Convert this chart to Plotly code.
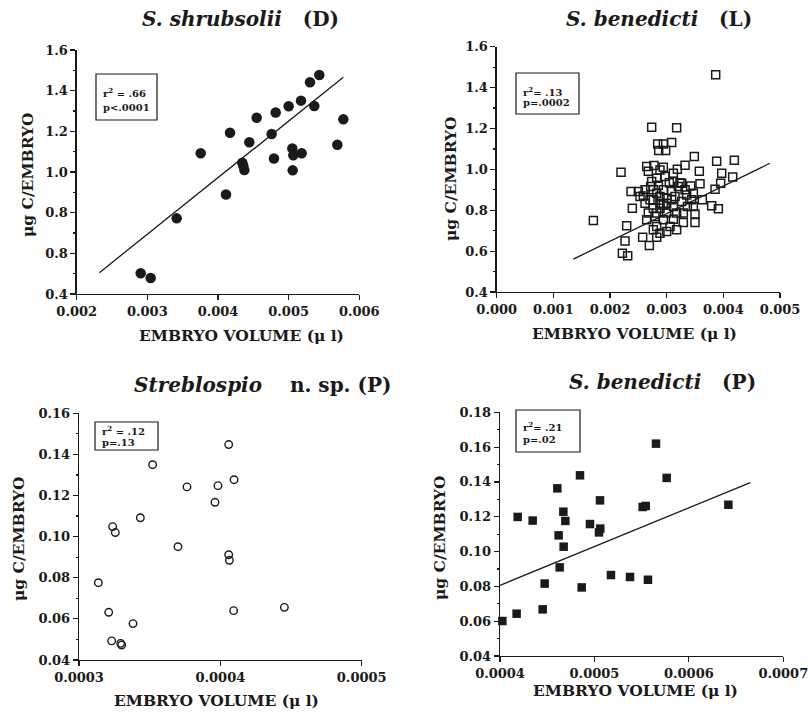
import plotly.graph_objects as go

W, H = 808, 714

# ---------------- data ----------------
# S. shrubsolii (D)
d_vol = [0.002906, 0.003047, 0.003415, 0.003755, 0.004170, 0.004113, 0.004344, 0.004358,
         0.004373, 0.004443, 0.004547, 0.004759, 0.004792, 0.004816, 0.005000, 0.005052,
         0.005066, 0.005057, 0.005184, 0.005175, 0.005302, 0.005363, 0.005434, 0.005689,
         0.005774]
d_carbon = [0.502, 0.479, 0.772, 1.092, 1.193, 0.889, 1.046, 1.031,
            1.010, 1.146, 1.267, 1.187, 1.066, 1.293, 1.323, 1.116,
            1.082, 1.008, 1.092, 1.351, 1.441, 1.325, 1.477, 1.134,
            1.259]
d_fit_x = [0.002321, 0.005774]
d_fit_y = [0.505, 1.466]

# S. benedicti (L)
l_vol = [0.003865, 0.002735, 0.003176, 0.002841, 0.002941, 0.003088, 0.002859, 0.002982,
         0.003488, 0.003882, 0.004194, 0.002194, 0.002676, 0.002776, 0.002941, 0.003188,
         0.003324, 0.003576, 0.003971, 0.004165, 0.002371, 0.002500, 0.002588, 0.002718,
         0.002853, 0.003047, 0.003235, 0.003424, 0.003588, 0.002394, 0.002618, 0.002765,
         0.002882, 0.001706, 0.002294, 0.002265, 0.002218, 0.002312, 0.002576, 0.002694,
         0.002824, 0.003794, 0.003912, 0.003500, 0.003500, 0.003853, 0.003953, 0.003294,
         0.003118, 0.003000, 0.003176, 0.002941, 0.002824, 0.002794, 0.003000, 0.003118,
         0.003265, 0.003353, 0.003441, 0.003471, 0.003294, 0.003147, 0.003088, 0.002941,
         0.002824, 0.002706, 0.002765, 0.002676, 0.002647, 0.002882, 0.003000, 0.003176,
         0.003059, 0.002882, 0.002765, 0.003265, 0.003118, 0.002971, 0.002824, 0.002735,
         0.002618, 0.002529, 0.003471, 0.003365, 0.003629, 0.002941, 0.002824, 0.003088,
         0.003206, 0.003324, 0.003000, 0.002882, 0.002765, 0.002647, 0.002882, 0.003118]
l_carbon = [1.463, 1.206, 1.203, 1.124, 1.124, 1.131, 1.092, 1.092,
            1.063, 1.040, 1.045, 0.986, 0.991, 1.019, 1.010, 1.001,
            1.020, 0.991, 0.981, 0.963, 0.892, 0.892, 0.870, 0.916,
            0.922, 0.935, 0.935, 0.919, 0.929, 0.810, 0.834, 0.851,
            0.867, 0.750, 0.724, 0.650, 0.590, 0.577, 0.668, 0.628,
            0.668, 0.822, 0.807, 0.782, 0.740, 0.903, 0.932, 0.740,
            0.756, 0.696, 0.704, 0.753, 0.720, 0.769, 0.786, 0.818,
            0.843, 0.875, 0.851, 0.818, 0.786, 0.867, 0.892, 0.900,
            0.883, 0.851, 0.810, 0.786, 0.753, 0.810, 0.834, 0.786,
            0.720, 0.688, 0.704, 0.932, 0.940, 0.965, 0.957, 0.940,
            0.900, 0.867, 0.883, 0.818, 0.851, 0.826, 0.786, 0.851,
            0.916, 0.900, 0.859, 0.834, 0.900, 1.014, 0.997, 0.981]
l_fit_x = [0.001353, 0.004824]
l_fit_y = [0.561, 1.030]

# Streblospio n. sp. (P)
n_vol = [0.0003137, 0.0003210, 0.0003238, 0.0003257, 0.0003231, 0.0003295, 0.0003302,
         0.0003382, 0.0003434, 0.0003521, 0.0003700, 0.0003764, 0.0003962, 0.0003983,
         0.0004059, 0.0004059, 0.0004064, 0.0004097, 0.0004094, 0.0004453]
n_carbon = [0.0776, 0.0632, 0.1049, 0.1020, 0.0493, 0.0481, 0.0473,
            0.0577, 0.1092, 0.1350, 0.0951, 0.1242, 0.1167, 0.1248,
            0.1448, 0.0912, 0.0885, 0.1277, 0.0640, 0.0656]

# S. benedicti (P)
p_vol = [0.0004025, 0.0004176, 0.0004187, 0.0004346, 0.0004452, 0.0004473, 0.0004607,
         0.0004621, 0.0004632, 0.0004671, 0.0004674, 0.0004692, 0.0004847, 0.0004865,
         0.0004953, 0.0005048, 0.0005062, 0.0005059, 0.0005175, 0.0005377, 0.0005511,
         0.0005543, 0.0005567, 0.0005652, 0.0005765, 0.0006418]
p_carbon = [0.0601, 0.0643, 0.1199, 0.1178, 0.0668, 0.0816, 0.1363,
            0.1093, 0.0909, 0.1229, 0.1028, 0.1176, 0.1438, 0.0794,
            0.1158, 0.1110, 0.1132, 0.1294, 0.0865, 0.0854, 0.1256,
            0.1262, 0.0838, 0.1620, 0.1423, 0.1269]
p_fit_x = [0.000400, 0.000665]
p_fit_y = [0.0806, 0.1396]

# tick labels
d_xticks = [0.002, 0.003, 0.004, 0.005, 0.006]
d_xlabels = ["0.002", "0.003", "0.004", "0.005", "0.006"]
d_yticks = [0.4, 0.6, 0.8, 1.0, 1.2, 1.4, 1.6]
d_ylabels = ["0.4", "0.8", "0.8", "1.0", "1.2", "1.4", "1.6"]
l_xticks = [0.0, 0.001, 0.002, 0.003, 0.004, 0.005]
l_xlabels = ["0.000", "0.001", "0.002", "0.003", "0.004", "0.005"]
l_yticks = [0.4, 0.6, 0.8, 1.0, 1.2, 1.4, 1.6]
l_ylabels = ["0.4", "0.6", "0.8", "1.0", "1.2", "1.4", "1.6"]
n_xticks = [0.0003, 0.0004, 0.0005]
n_xlabels = ["0.0003", "0.0004", "0.0005"]
n_yticks = [0.04, 0.06, 0.08, 0.10, 0.12, 0.14, 0.16]
n_ylabels = ["0.04", "0.06", "0.08", "0.10", "0.12", "0.14", "0.16"]
p_xticks = [0.0004, 0.0005, 0.0006, 0.0007]
p_xlabels = ["0.0004", "0.0005", "0.0006", "0.0007"]
p_yticks = [0.04, 0.06, 0.08, 0.10, 0.12, 0.14, 0.16, 0.18]
p_ylabels = ["0.04", "0.06", "0.08", "0.10", "0.12", "0.14", "0.16", "0.18"]

titles = ["<b><i>S. shrubsolii</i>&nbsp;&nbsp;&nbsp;(D)</b>",
          "<b><i>S. benedicti</i>&nbsp;&nbsp;&nbsp;(L)</b>",
          "<b><i>Streblospio</i>&nbsp;&nbsp;&nbsp;&nbsp;n. sp. (P)</b>",
          "<b><i>S. benedicti</i>&nbsp;&nbsp;&nbsp;(P)</b>"]
stat_r2 = ["r<sup>2</sup> = .66", "r<sup>2</sup>= .13", "r<sup>2</sup> = .12", "r<sup>2</sup>= .21"]
stat_p = ["p&lt;.0001", "p=.0002", "p=.13", "p=.02"]
xtitle = "EMBRYO VOLUME (\u03bc l)"
ytitle = "\u03bcg C/EMBRYO"

INK = "#1a1a1a"
SERIF = "DejaVu Serif"

fig = go.Figure()

def px_x(p):
    return p / W

def px_y(p):
    return 1 - p / H

panels = [
    ("", (76.7, 359.3), (50, 294), [0.002, 0.006], [0.4, 1.6], d_xticks, d_xlabels, d_yticks, d_ylabels, 0.1),
    ("2", (496.7, 780.0), (46.7, 292), [0.0, 0.005], [0.4, 1.6], l_xticks, l_xlabels, l_yticks, l_ylabels, 0.1),
    ("3", (79.0, 361.7), (413.3, 660), [0.0003, 0.0005], [0.04, 0.16], n_xticks, n_xlabels, n_yticks, n_ylabels, 0.01),
    ("4", (500.0, 783.3), (412.3, 656), [0.0004, 0.0007], [0.04, 0.18], p_xticks, p_xlabels, p_yticks, p_ylabels, 0.01),
]

layout_axes = {}
for suf, (x0, x1), (yt, yb), xr, yr, xt, xl, yt_, yl, ydm in panels:
    common = dict(showline=True, linecolor=INK, linewidth=1.3, ticks="outside",
                  ticklen=5, tickwidth=1.2, tickcolor=INK, showgrid=False, zeroline=False,
                  tickfont=dict(family=SERIF, size=13, color=INK, weight="bold"),
                  mirror=False, automargin=False, ticklabeloverflow="allow")
    layout_axes["xaxis" + suf] = dict(common, domain=[px_x(x0), px_x(x1)], range=xr,
                                      tickmode="array", tickvals=xt, ticktext=xl,
                                      anchor="y" + suf)
    layout_axes["yaxis" + suf] = dict(common, domain=[px_y(yb), px_y(yt)], range=yr,
                                      tickmode="array", tickvals=yt_, ticktext=yl,
                                      anchor="x" + suf,
                                      minor=dict(ticks="outside", ticklen=2, tickcolor=INK,
                                                 dtick=ydm, tick0=yr[0]))

fig.add_trace(go.Scatter(x=d_vol, y=d_carbon, mode="markers", xaxis="x", yaxis="y",
                         marker=dict(symbol="circle", size=10.5, color=INK), cliponaxis=False))
fig.add_trace(go.Scatter(x=d_fit_x, y=d_fit_y, mode="lines", xaxis="x", yaxis="y",
                         line=dict(color=INK, width=1.3)))
fig.add_trace(go.Scatter(x=l_vol, y=l_carbon, mode="markers", xaxis="x2", yaxis="y2",
                         marker=dict(symbol="square-open", size=8, color=INK,
                                     line=dict(width=1.5, color=INK)), cliponaxis=False))
fig.add_trace(go.Scatter(x=l_fit_x, y=l_fit_y, mode="lines", xaxis="x2", yaxis="y2",
                         line=dict(color=INK, width=1.3)))
fig.add_trace(go.Scatter(x=n_vol, y=n_carbon, mode="markers", xaxis="x3", yaxis="y3",
                         marker=dict(symbol="circle-open", size=7.5, color=INK,
                                     line=dict(width=1.4, color=INK)), cliponaxis=False))
fig.add_trace(go.Scatter(x=p_vol, y=p_carbon, mode="markers", xaxis="x4", yaxis="y4",
                         marker=dict(symbol="square", size=8.5, color=INK), cliponaxis=False))
fig.add_trace(go.Scatter(x=p_fit_x, y=p_fit_y, mode="lines", xaxis="x4", yaxis="y4",
                         line=dict(color=INK, width=1.3)))

annotations = []
shapes = []
title_pos = [(240, 19), (659, 19), (263, 385), (662, 382)]
for t, (cx, cy) in zip(titles, title_pos):
    annotations.append(dict(text=t, x=px_x(cx), y=px_y(cy), xref="paper", yref="paper",
                            xanchor="center", yanchor="middle", showarrow=False,
                            font=dict(family=SERIF, size=20, color=INK)))
xt_pos = [(241, 335), (634, 333), (216, 700), (635, 690)]
for (cx, cy) in xt_pos:
    annotations.append(dict(text=xtitle, x=px_x(cx), y=px_y(cy), xref="paper", yref="paper",
                            xanchor="center", yanchor="middle", showarrow=False,
                            font=dict(family=SERIF, size=15.5, color=INK, weight="bold")))
yt_pos = [(27, 175), (450, 179), (18, 539), (439, 538)]
for (cx, cy) in yt_pos:
    annotations.append(dict(text=ytitle, x=px_x(cx), y=px_y(cy), xref="paper", yref="paper",
                            xanchor="center", yanchor="middle", showarrow=False, textangle=-90,
                            font=dict(family=SERIF, size=15.5, color=INK, weight="bold")))
# stats boxes: (left, top, right, bottom) and the two text line centres, in window px
boxes = [(96, 74, 157, 120), (516, 73, 579, 114), (95, 422, 158, 450), (516, 410, 580, 452)]
line_y = [(93, 107), (91, 103), (430, 442), (426, 439)]
for r2, pv, (bl, bt, br, bb), (ly1, ly2) in zip(stat_r2, stat_p, boxes, line_y):
    shapes.append(dict(type="rect", xref="paper", yref="paper",
                       x0=px_x(bl), x1=px_x(br), y0=px_y(bb), y1=px_y(bt),
                       line=dict(color=INK, width=1.2), fillcolor="white", layer="above"))
    for txt, ly in ((r2, ly1), (pv, ly2)):
        annotations.append(dict(text=txt, x=px_x(bl + 5), y=px_y(ly),
                                xref="paper", yref="paper", xanchor="left", yanchor="middle",
                                showarrow=False,
                                font=dict(family=SERIF, size=10, color=INK, weight="bold")))

fig.update_layout(width=W, height=H, margin=dict(l=0, r=0, t=0, b=0, autoexpand=False),
                  paper_bgcolor="white", plot_bgcolor="white", showlegend=False,
                  hovermode=False,
                  annotations=annotations, shapes=shapes, **layout_axes)

# remove the default 8px page margin so the figure fills the 808x714 window exactly
fig.write_html("out.html", config={"displayModeBar": False, "staticPlot": True},
               post_script="document.body.style.margin='0';document.body.style.overflow='hidden';")
